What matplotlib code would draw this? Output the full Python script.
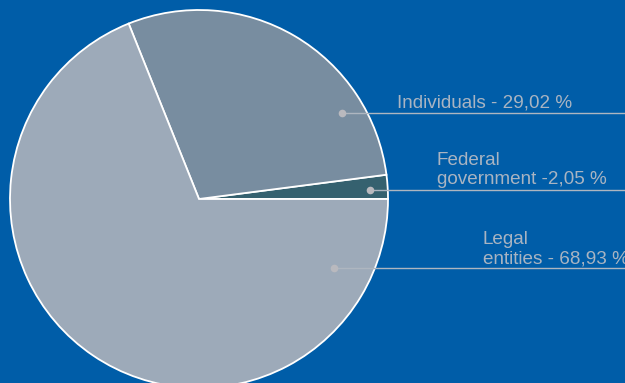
import matplotlib
matplotlib.use("Agg")
import matplotlib.pyplot as plt
import numpy as np

# Ownership structure
labels = ["Federal\ngovernment -2,05 %", "Individuals - 29,02 %", "Legal\nentities - 68,93 %"]
shares = [2.05, 29.02, 68.93]
colors = ["#35616F", "#788DA0", "#9DAAB9"]

W, H = 625, 383
BG = "#005DA8"
TEXT = "#A9B4C2"

fig = plt.figure(figsize=(W / 100, H / 100), dpi=100, facecolor=BG)
ax = fig.add_axes([0, 0, 1, 1])
ax.set_facecolor(BG)

cx, cy, r = 199, H - 199, 189
wedges, _ = ax.pie(shares, colors=colors, startangle=0, counterclock=True,
                   center=(cx, cy), radius=r, frame=True,
                   wedgeprops=dict(edgecolor="white", linewidth=1.3))
ax.set_xlim(0, W)
ax.set_ylim(0, H)
ax.set_aspect("equal")
ax.axis("off")

# anchor dot placement (angle in degrees, radial fraction) and label position
anchors = [(3.0, 0.905), (31.0, 0.885), (-27.0, 0.80)]
text_pos = [(437, 184), (397, 107), (483, 263)]

for (ang, frac), (tx, ty), lab in zip(anchors, text_pos, labels):
    a = np.deg2rad(ang)
    px = cx + frac * r * np.cos(a)
    py = cy + frac * r * np.sin(a)
    ax.plot([px, W], [py, py], color="#AEB6C0", lw=1.0, zorder=3)
    ax.plot(px, py, "o", color="#B9B9BE", ms=5.5, zorder=4, mec="none")
    ax.text(tx, H - ty, lab, color=TEXT, fontsize=13.6, family="Liberation Sans",
            ha="left", va="baseline", linespacing=1.12, zorder=5)

fig.savefig("out.png", dpi=100, facecolor=BG)
